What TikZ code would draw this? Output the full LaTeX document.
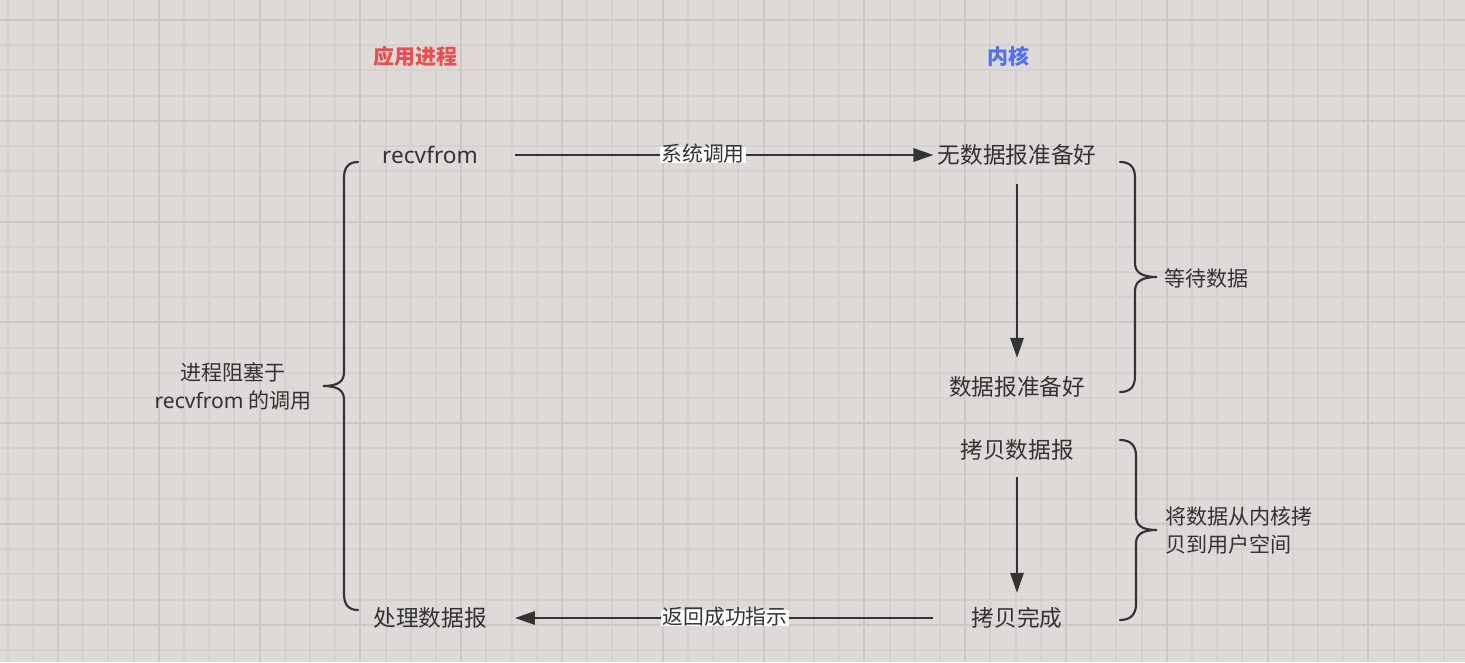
\documentclass[tikz,border=0pt]{standalone}
\usepackage{fontspec}
\setmainfont{Noto Sans CJK SC}
\newfontfamily\lat{Noto Sans}
\usetikzlibrary{arrows.meta}
\definecolor{bg}{RGB}{222,218,216}
\definecolor{gminor}{RGB}{213,209,207}
\definecolor{gmajor}{RGB}{204,200,198}
\definecolor{ink}{RGB}{51,51,51}
\definecolor{tred}{RGB}{234,78,78}
\definecolor{tblue}{RGB}{84,112,236}
\tikzset{
  mainlbl/.style={inner sep=0pt, text=ink, font=\fontsize{17}{20}\selectfont, text height=1.25em, text depth=0.05em},
  sidelbl/.style={inner sep=0pt, text=ink, font=\fontsize{15.8}{21}\selectfont},
  titlelbl/.style={inner sep=0pt, font=\fontsize{15.75}{19}\selectfont\bfseries, text height=1.1em, text depth=0.1em},
  arrlbl/.style={fill=white, inner xsep=1pt, inner ysep=0pt, text=ink, font=\fontsize{15.6}{19}\selectfont, text height=1.12em, text depth=0.08em},
  arr/.style={draw=ink, line width=1.6pt, -{Triangle[length=15pt,width=10pt]}},
  brc/.style={draw=ink, line width=1.6pt, line cap=round}
}
\begin{document}
\begin{tikzpicture}[x=0.75pt,y=-0.75pt]
\fill[bg] (0,0) rectangle (1465,662);
\useasboundingbox (0,0) rectangle (1465,662);
% grid
\foreach \i in {0,...,58}{\draw[gminor, line width=1.5pt] ({7.6+25.2*\i},0) -- ({7.6+25.2*\i},662);}
\foreach \j in {-1,...,26}{\draw[gminor, line width=1.5pt] (0,{20+25.2*\j}) -- (1465,{20+25.2*\j});}
\foreach \i in {0,...,14}{\draw[gmajor, line width=1.5pt] ({58+100.8*\i},0) -- ({58+100.8*\i},662);}
\foreach \j in {0,...,6}{\draw[gmajor, line width=1.5pt] (0,{20+100.8*\j}) -- (1465,{20+100.8*\j});}

% titles
\node[titlelbl, text=tred] (app) at (415,58) {应用进程};
\node[titlelbl, text=tblue] (kern) at (1008,58) {内核};

% main nodes
\node[mainlbl] (recv) at (430,155) {\lat recvfrom};
\node[mainlbl] (nodata) at (1017,155) {无数据报准备好};
\node[mainlbl] (ready) at (1017,387) {数据报准备好};
\node[mainlbl] (copy) at (1017,450) {拷贝数据报};
\node[mainlbl] (done) at (1017,618) {拷贝完成};
\node[mainlbl] (proc) at (430,618) {处理数据报};

% connectors
\draw[arr, shorten <=27.75pt, shorten >=3pt] (recv.east) -- (nodata.west);
\draw[arr, shorten <=15.2pt, shorten >=15.2pt] (nodata.south) -- (ready.north);
\draw[arr, shorten <=13.7pt, shorten >=12.2pt] (copy.south) -- (done.north);
\draw[arr, shorten <=28.5pt, shorten >=21pt] (done.west) -- (proc.east);

\node[arrlbl] (l1) at (703,155) {系统调用};
\node[arrlbl] (l2) at (725,618) {返回成功指示};

% braces
\draw[brc] (1120,162) .. controls (1131,162) and (1135,168) .. (1135,178) -- (1135,263)
  .. controls (1135,272) and (1141,277) .. (1157,277)
  .. controls (1141,277) and (1135,282) .. (1135,291) -- (1135,376)
  .. controls (1135,386) and (1131,392) .. (1120,392);
\draw[brc] (1120,440) .. controls (1131,440) and (1136,446) .. (1136,456) -- (1136,516)
  .. controls (1136,525) and (1141,530) .. (1157,530)
  .. controls (1141,530) and (1136,535) .. (1136,544) -- (1136,604)
  .. controls (1136,614) and (1131,620) .. (1120,620);
\draw[brc] (358,162) .. controls (348,162) and (344,168) .. (344,178) -- (344,372)
  .. controls (344,381) and (339,386) .. (323,386)
  .. controls (339,386) and (344,391) .. (344,400) -- (344,594)
  .. controls (344,604) and (348,610) .. (358,610);

\node[sidelbl, anchor=west, text height=0.88em, text depth=0.12em] (wait) at (1164,281) {等待数据};
\node[sidelbl, anchor=west, align=left] (copyk) at (1165,531) {将数据从内核拷\\贝到用户空间};
\node[sidelbl, align=center] (block) at (233,386) {进程阻塞于\\{\lat recvfrom} 的调用};
\end{tikzpicture}
\end{document}
